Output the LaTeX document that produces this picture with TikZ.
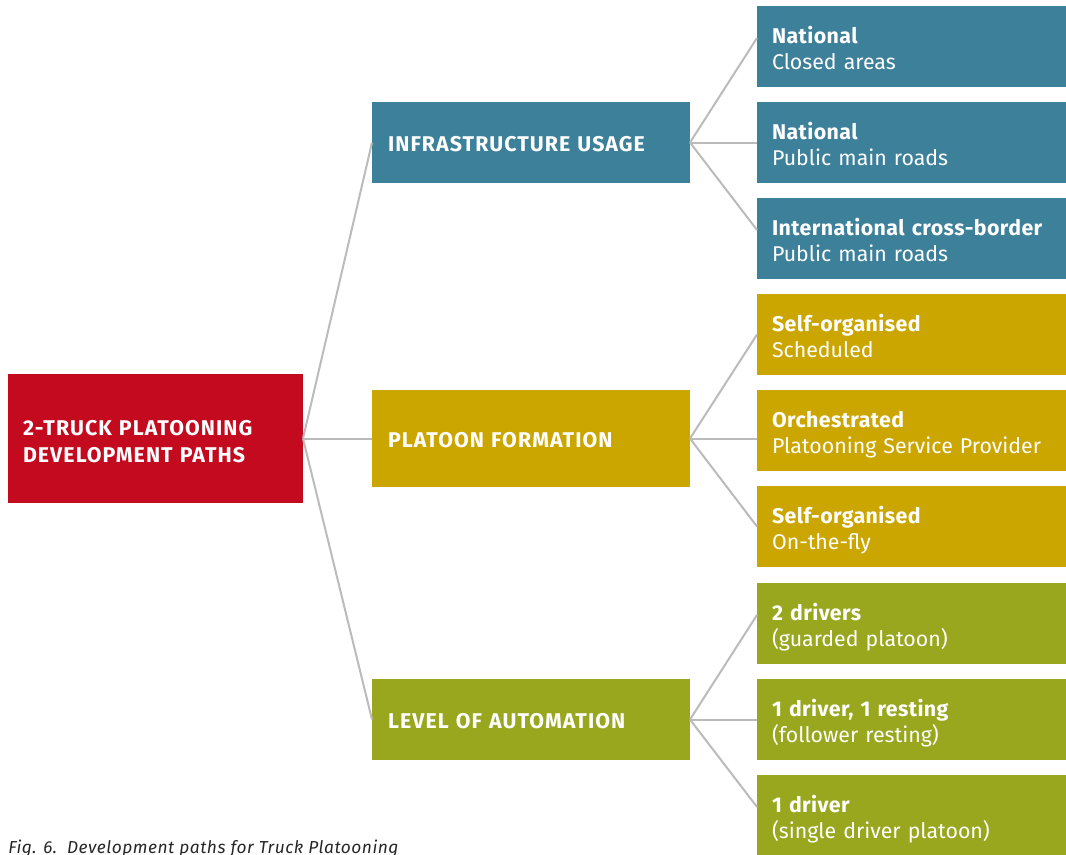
\documentclass[tikz,border=0pt]{standalone}
\usepackage{fontspec}
\setmainfont{Fira Sans}
\newfontfamily\capsfont[LetterSpace=5]{Fira Sans}
\newfontfamily\headfont[LetterSpace=2]{Fira Sans}
\newfontfamily\capfont[LetterSpace=3]{Fira Sans}
\newcommand{\head}[1]{{\headfont\bfseries #1}}
\usetikzlibrary{positioning, calc}
\definecolor{infra}{RGB}{61,128,153}
\definecolor{form}{RGB}{204,166,0}
\definecolor{autom}{RGB}{152,167,30}
\definecolor{rootred}{RGB}{196,10,30}
\definecolor{link}{RGB}{187,187,187}
\tikzset{%
  root/.style={rectangle, fill=rootred, text=white, align=left, inner sep=0pt, outer sep=0pt,
    text width=198.75pt, text height=15pt, text depth=20.25pt,
    minimum width=221.25pt, minimum height=96.75pt,
    font=\capsfont\fontsize{16pt}{20.25pt}\selectfont\bfseries},
  cat/.style={rectangle, text=white, align=left, inner xsep=12pt, inner ysep=0pt, outer sep=0pt,
    text width=214.5pt, text height=14pt, text depth=0pt,
    minimum width=238.5pt, minimum height=60.75pt,
    font=\capsfont\fontsize{16pt}{19.5pt}\selectfont\bfseries},
  sub/.style={rectangle, text=white, align=left, inner xsep=11.25pt, inner ysep=0pt, outer sep=0pt,
    text width=217.5pt, text height=14.25pt, text depth=19.5pt,
    minimum width=240pt, minimum height=60.75pt,
    font=\fontsize{16pt}{19.5pt}\selectfont},
  edge/.style={draw=link, line width=1.5pt},
  caption/.style={inner sep=0pt, text=black!85, font=\capfont\fontsize{13pt}{15pt}\selectfont\itshape}
}
\begin{document}
\begin{tikzpicture}[x=0.75pt, y=-0.75pt]
  \useasboundingbox (0,0) rectangle (1066,854);

  \node[sub, fill=infra, anchor=north west] (c0s0) at (757,6) {\head{National}\\Closed areas};
  \node[sub, fill=infra, below=11.25pt of c0s0] (c0s1) {\head{National}\\Public main roads};
  \node[sub, fill=infra, below=11.25pt of c0s1] (c0s2) {\head{International cross-border}\\Public main roads};

  \node[sub, fill=form, below=11.25pt of c0s2] (c1s0) {\head{Self-organised}\\Scheduled};
  \node[sub, fill=form, below=11.25pt of c1s0] (c1s1) {\head{Orchestrated}\\Platooning Service Provider};
  \node[sub, fill=form, below=11.25pt of c1s1] (c1s2) {\head{Self-organised}\\On-the-fly};

  \node[sub, fill=autom, below=12pt of c1s2] (c2s0) {\head{2 drivers}\\(guarded platoon)};
  \node[sub, fill=autom, below=11.25pt of c2s0] (c2s1) {\head{1 driver, 1 resting}\\(follower resting)};
  \node[sub, fill=autom, below=11.25pt of c2s1] (c2s2) {\head{1 driver}\\(single driver platoon)};

  \node[cat, fill=infra, left=50.25pt of c0s1] (c0) {INFRASTRUCTURE USAGE};
  \node[cat, fill=form, minimum height=72.75pt, left=50.25pt of c1s1.north west, anchor=north east] (c1) {PLATOON FORMATION};
  \node[cat, fill=autom, left=50.25pt of c2s1] (c2) {LEVEL OF AUTOMATION};

  \node[root, left=51.75pt of c1] (r) {2-TRUCK PLATOONING\\DEVELOPMENT PATHS};

  \draw[edge] (r.east) to (c0.west);
  \draw[edge] (r.east) to (c1.west);
  \draw[edge] (r.east) to (c2.west);

  \draw[edge] (c0.east) to ([yshift=6.4pt]c0s0.west);
  \draw[edge] (c0.east) to (c0s1.west);
  \draw[edge] (c0.east) to ([yshift=6.4pt]c0s2.west);

  \draw[edge] (c1.east) to (c1s0.west);
  \draw[edge] (c1.east) to (c1.east -| c1s1.west);
  \draw[edge] (c1.east) to (c1s2.west);

  \draw[edge] (c2.east) to ([yshift=6.4pt]c2s0.west);
  \draw[edge] (c2.east) to (c2s1.west);
  \draw[edge] (c2.east) to ([yshift=6.4pt]c2s2.west);

  \node[caption, anchor=base west] (fig) at (8,853) {Fig. 6.\ \ Development paths for Truck Platooning};
\end{tikzpicture}
\end{document}
